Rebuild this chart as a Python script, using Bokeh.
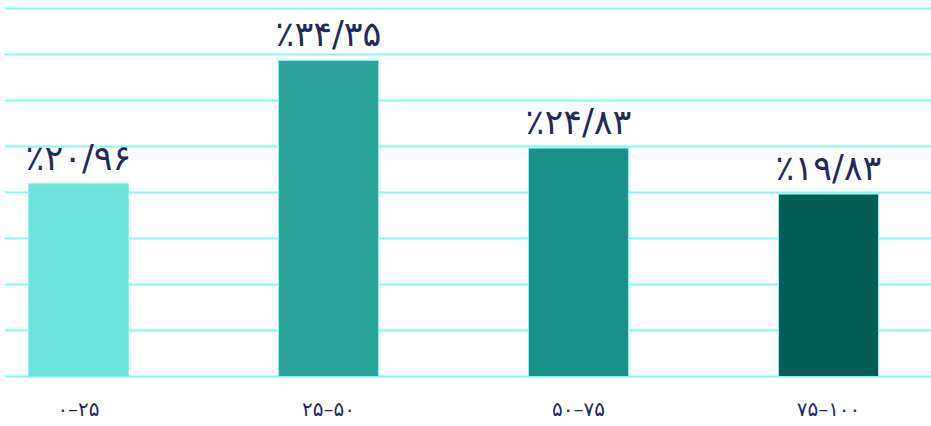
from bokeh.plotting import figure
from bokeh.models import ColumnDataSource, FixedTicker, Range1d, CustomJSTickFormatter
from bokeh.embed import file_html
from bokeh.resources import INLINE
from bokeh.core.properties import value

categories = ["۰–۲۵", "۲۵–۵۰", "۵۰–۷۵", "۷۵–۱۰۰"]
values = [20.96, 34.35, 24.83, 19.83]
value_labels = ["٪۲۰/۹۶", "٪۳۴/۳۵", "٪۲۴/۸۳", "٪۱۹/۸۳"]
colors = ["#6ae4da", "#2aa39b", "#189189", "#035e55"]
grid_ticks = [0, 5, 10, 15, 20, 25, 30, 35, 40]

xs = list(range(len(categories)))
src = ColumnDataSource(dict(x=xs, top=values, color=colors, label=value_labels))

p = figure(frame_width=927, frame_height=378, output_backend="svg", toolbar_location=None,
           x_range=Range1d(-0.296, 3.412), y_range=Range1d(-0.217, 40.87),
           min_border_left=4, min_border_right=0, min_border_top=0, min_border_bottom=48)
p.outline_line_color = None
p.background_fill_color = "white"
p.border_fill_color = "white"

p.vbar(x="x", top="top", bottom=0, width=0.4, fill_color="color",
       line_color="#8af5ea", line_width=1, source=src)

p.text(x="x", y="top", text="label", source=src, text_align="center",
       text_baseline="bottom", y_offset=-6, text_font=value("DejaVu Sans"),
       text_font_size="35px", text_color="#1f2a5c")

p.yaxis.visible = False
p.yaxis.ticker = FixedTicker(ticks=grid_ticks)
p.ygrid.ticker = FixedTicker(ticks=grid_ticks)
p.ygrid.grid_line_color = "#7ffcf0"
p.ygrid.grid_line_width = 2
p.xgrid.grid_line_color = None

p.xaxis.ticker = FixedTicker(ticks=xs)
p.xaxis.formatter = CustomJSTickFormatter(args=dict(labels=categories),
                                          code="return labels[tick];")
p.xaxis.axis_line_color = None
p.xaxis.major_tick_line_color = None
p.xaxis.minor_tick_line_color = None
p.xaxis.major_label_text_font = "DejaVu Sans"
p.xaxis.major_label_text_font_size = "20px"
p.xaxis.major_label_text_color = "#1f2a5c"
p.xaxis.major_label_standoff = 12

open("out.html", "w").write(file_html(p, INLINE))
